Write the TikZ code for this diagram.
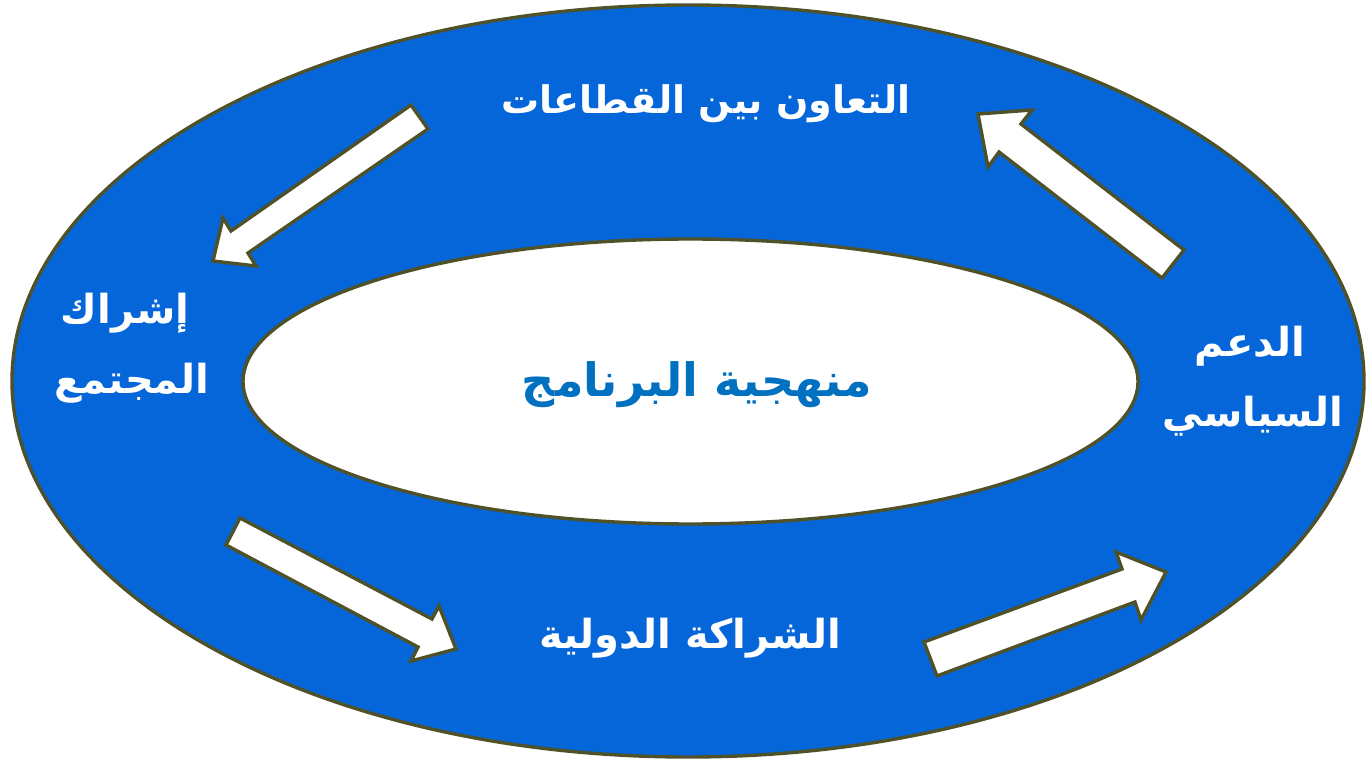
\documentclass[tikz,border=0pt]{standalone}
\usepackage{fontspec}
\usetikzlibrary{shapes.geometric}
\TeXXeTstate=1
\newfontfamily\arabicfont[Script=Arabic]{DejaVu Sans}
\definecolor{ringblue}{HTML}{0566DA}
\definecolor{edgeolive}{HTML}{4F5228}
\definecolor{titleblue}{HTML}{0070C0}
\tikzset{
  ring/.style={ellipse, draw=edgeolive, line width=1.7pt, inner sep=0pt, outer sep=0pt},
  blockarrow/.style={fill=white, draw=edgeolive, line width=1.7pt, line join=miter},
  whitelabel/.style={text=white, font=\arabicfont\bfseries\fontsize{20}{35}\selectfont, align=center},
}
\begin{document}
\begin{tikzpicture}[x=0.5pt,y=-0.5pt]
\useasboundingbox (0,0) rectangle (1366,759);
\node[ring, fill=ringblue, minimum width=676pt, minimum height=376pt] (outer) at (688,381) {};
\node[ring, fill=white, minimum width=447.5pt, minimum height=142.5pt] (inner) at (690.5,381.5) {};
% arrows
\draw[blockarrow] (411,105) -- (428,129) -- (248,253) -- (256,266) -- (213,261) -- (223,218) -- (231,231) -- cycle;
\draw[blockarrow] (1184,250) -- (1162,278) -- (999,152) -- (988,167) -- (978,114) -- (1032,110) -- (1021,124) -- cycle;
\draw[blockarrow] (240,518) -- (226,545) -- (418,647) -- (411,661) -- (456,649) -- (439,606) -- (432,619) -- cycle;
\draw[blockarrow] (924,642) -- (937,676) -- (1135,602) -- (1141,620) -- (1166,572) -- (1116,552) -- (1122,569) -- cycle;
% labels
\node[whitelabel, font=\arabicfont\bfseries\fontsize{19}{35}\selectfont] (coop) at (706,104) {\beginR التعاون بين القطاعات\endR};
\node[whitelabel] (community) at (125,348) {\hbox{\beginR إشراك\endR}\\\hbox{\hskip 7pt\beginR المجتمع\endR}};
\node[whitelabel] (political) at (1250,381) {\hbox{\beginR الدعم\endR}\\\hbox{\hskip 3pt\beginR السياسي\endR}};
\node[whitelabel] (partner) at (690,638) {\beginR الشراكة الدولية\endR};
\node[text=titleblue, font=\arabicfont\bfseries\fontsize{23}{30}\selectfont] (method) at (697,385) {\beginR منهجية البرنامج\endR};
\end{tikzpicture}
\end{document}
